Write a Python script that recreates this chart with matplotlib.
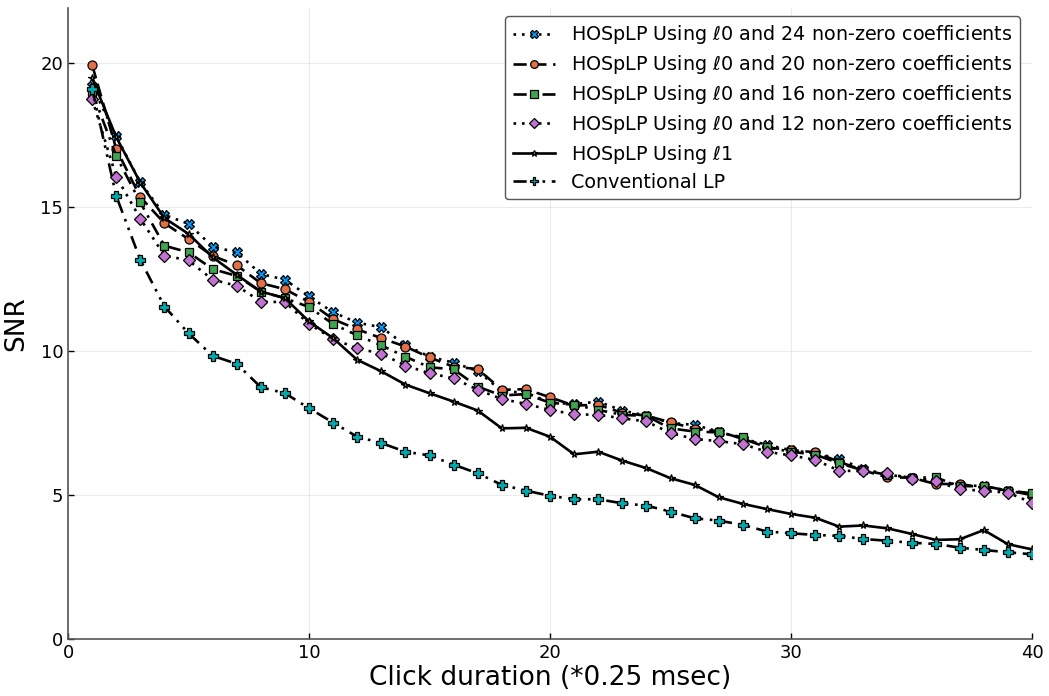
import numpy as np
import matplotlib
matplotlib.use("Agg")
import matplotlib.pyplot as plt

# Click duration in units of 0.25 msec
durations = list(range(1, 41))

snr_l0_24 = [19.2, 17.45, 15.85, 14.72, 14.41, 13.62, 13.42, 12.67, 12.47, 11.89,
             11.34, 10.98, 10.82, 10.2, 9.8, 9.59, 9.3, 8.6, 8.55, 8.21,
             8.15, 8.24, 7.93, 7.75, 7.5, 7.43, 7.2, 6.95, 6.74, 6.55,
             6.45, 6.25, 5.9, 5.7, 5.6, 5.5, 5.35, 5.3, 5.15, 5.0]
snr_l0_20 = [19.93, 17.01, 15.34, 14.43, 13.88, 13.3, 12.97, 12.35, 12.14, 11.7,
             11.10, 10.75, 10.44, 10.15, 9.77, 9.45, 9.37, 8.65, 8.67, 8.39,
             8.1, 8.13, 7.85, 7.75, 7.52, 7.3, 7.2, 6.95, 6.65, 6.56,
             6.48, 6.15, 5.85, 5.61, 5.6, 5.38, 5.38, 5.25, 5.15, 5.0]
snr_l0_16 = [19.0, 16.77, 15.15, 13.65, 13.42, 12.84, 12.60, 12.06, 11.83, 11.52,
             10.93, 10.54, 10.19, 9.80, 9.43, 9.36, 8.76, 8.45, 8.50, 8.2,
             8.13, 7.95, 7.78, 7.74, 7.31, 7.20, 7.17, 7.00, 6.65, 6.5,
             6.4, 6.10, 5.85, 5.7, 5.6, 5.61, 5.3, 5.31, 5.15, 5.06]
snr_l0_12 = [18.74, 16.05, 14.59, 13.31, 13.14, 12.47, 12.26, 11.71, 11.69, 10.94,
             10.41, 10.09, 9.90, 9.49, 9.22, 9.05, 8.65, 8.33, 8.16, 7.95,
             7.80, 7.78, 7.66, 7.55, 7.15, 6.94, 6.87, 6.76, 6.50, 6.37,
             6.22, 5.84, 5.83, 5.75, 5.56, 5.47, 5.20, 5.14, 5.08, 4.73]
snr_l1 = [19.47, 17.42, 15.84, 14.61, 14.06, 13.25, 12.64, 12.06, 11.83, 11.02,
          10.44, 9.69, 9.29, 8.83, 8.53, 8.24, 7.93, 7.31, 7.33, 7.02,
          6.41, 6.50, 6.19, 5.93, 5.58, 5.35, 4.92, 4.69, 4.51, 4.34,
          4.21, 3.90, 3.94, 3.84, 3.65, 3.44, 3.46, 3.78, 3.29, 3.11]
snr_conv = [19.10, 15.38, 13.16, 11.54, 10.61, 9.83, 9.55, 8.74, 8.53, 8.01,
            7.51, 7.02, 6.8, 6.5, 6.37, 6.05, 5.75, 5.35, 5.15, 4.97,
            4.85, 4.85, 4.71, 4.63, 4.42, 4.19, 4.11, 3.96, 3.73, 3.67,
            3.61, 3.58, 3.47, 3.41, 3.34, 3.30, 3.17, 3.09, 3.01, 2.94]

labels = [
    r"HOSpLP Using $\ell$0 and 24 non-zero coefficients",
    r"HOSpLP Using $\ell$0 and 20 non-zero coefficients",
    r"HOSpLP Using $\ell$0 and 16 non-zero coefficients",
    r"HOSpLP Using $\ell$0 and 12 non-zero coefficients",
    r"HOSpLP Using $\ell$1",
    "Conventional LP",
]
x_ticks = [0, 10, 20, 30, 40]
y_ticks = [0, 5, 10, 15, 20]

plt.rcParams['font.family'] = ['DejaVu Sans']
plt.rcParams['mathtext.fontset'] = 'dejavusans'

dot = (0, (1, 2.2))
dash = (0, (5, 2.5))
dashdot = (0, (5, 2.5, 1, 2.5))
dashdotdot = (0, (5, 2.5, 1, 2.5, 1, 2.5))

styles = [
    dict(ls=dot, marker='X', mfc='#009AFA', ms=6.5),
    dict(ls=dash, marker='o', mfc='#E36F47', ms=6.5),
    dict(ls=dashdot, marker='s', mfc='#3EA44E', ms=6.0),
    dict(ls=dot, marker='D', mfc='#C371D2', ms=6.0),
    dict(ls='-', marker='*', mfc='#AC8E18', ms=5.5),
    dict(ls=dashdotdot, marker='P', mfc='#00AAAE', ms=7.0),
]
series = [snr_l0_24, snr_l0_20, snr_l0_16, snr_l0_12, snr_l1, snr_conv]

fig = plt.figure(figsize=(10.49, 6.96), dpi=100)
ax = fig.add_axes([68 / 1049, 57 / 696, (1032 - 68) / 1049, (688 - 57) / 696])

for vals, lab, st in zip(series, labels, styles):
    ax.plot(durations, vals, color='black', lw=1.9, linestyle=st['ls'],
            marker=st['marker'], markerfacecolor=st['mfc'], markeredgecolor='black',
            markeredgewidth=0.9, markersize=st['ms'], label=lab)

ax.set_xlim(0, 40)
ax.set_ylim(0, 21.9)
ax.set_xticks(x_ticks)
ax.set_yticks(y_ticks)
ax.tick_params(direction='in', length=4, width=1, labelsize=13, colors='black')
ax.grid(True, color='black', alpha=0.08, lw=0.8)
for s in ['top', 'right']:
    ax.spines[s].set_visible(False)
for s in ['left', 'bottom']:
    ax.spines[s].set_color('#555555')
    ax.spines[s].set_linewidth(1.2)

ax.set_xlabel("Click duration (*0.25 msec)", fontsize=19, labelpad=2)
ax.set_ylabel("SNR", fontsize=19, labelpad=8)

leg = ax.legend(loc='upper right', bbox_to_anchor=(1 - 8 / 964, 1 - 4 / 631),
                fontsize=13.75, frameon=True, fancybox=True, edgecolor='#555555',
                handlelength=2.2, handletextpad=0.85, labelspacing=0.36,
                borderpad=0.4, borderaxespad=0.2, framealpha=1.0, markerscale=0.85)
leg.get_frame().set_linewidth(1.0)

fig.savefig("out.png", dpi=100)
